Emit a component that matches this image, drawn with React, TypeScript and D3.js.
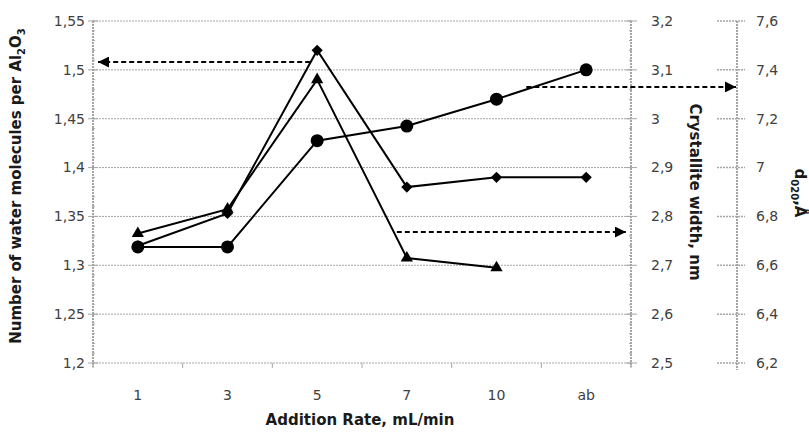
import React from "react"
import * as d3 from "d3"

// values
const categories = ["1", "3", "5", "7", "10", "ab"]
const waterMolecules = [1.32, 1.353, 1.52, 1.38, 1.39, 1.39]
const crystalliteWidth = [2.765, 2.815, 3.08, 2.715, 2.695]
const d020 = [6.675, 6.675, 7.11, 7.17, 7.28, 7.4]

const leftTicks = [1.2, 1.25, 1.3, 1.35, 1.4, 1.45, 1.5, 1.55]
const crystTicks = [2.5, 2.6, 2.7, 2.8, 2.9, 3, 3.1, 3.2]
const dTicks = [6.2, 6.4, 6.6, 6.8, 7, 7.2, 7.4, 7.6]

const W = 809
const H = 432
const margin = { top: 21, left: 93, right: 631, bottom: 363 }
const dAxisX = 737

const fmt = (v: number) => String(+v.toFixed(2)).replace(".", ",")
const tickFont = "'DejaVu Sans', sans-serif"

export default function App() {
    const x = d3.scaleBand().domain(categories).range([margin.left, margin.right])
    const cx = (c: string) => (x(c) as number) + x.bandwidth() / 2

    const yL = d3.scaleLinear().domain([1.2, 1.55]).range([margin.bottom, margin.top])
    const yC = d3.scaleLinear().domain([2.5, 3.2]).range([margin.bottom, margin.top])
    const yD = d3.scaleLinear().domain([6.2, 7.6]).range([margin.bottom, margin.top])

    const lineL = d3.line<number>().x((d, i) => cx(categories[i])).y(d => yL(d))
    const lineC = d3.line<number>().x((d, i) => cx(categories[i])).y(d => yC(d))
    const lineD = d3.line<number>().x((d, i) => cx(categories[i])).y(d => yD(d))

    const diamond = d3.symbol().type(d3.symbolDiamond2).size(80)()
    const triangle = d3.symbol().type(d3.symbolTriangle).size(65)()

    // minor ticks, five per interval
    const minor = d3.range(0, 36).map(i => 1.2 + i * 0.01)

    const grid = "#a6a6a6"
    const labelColor = "#404040"

    return (
        <svg width={W} height={H} style={{ position: "absolute", left: 0, top: 0, background: "#fff" }}>
            <defs>
                <marker id="head" viewBox="0 0 10 10" refX="10" refY="5" markerWidth="6" markerHeight="5.5" orient="auto" markerUnits="strokeWidth">
                    <path d="M0,0 L10,5 L0,10 z" fill="#000" />
                </marker>
            </defs>

            {/* horizontal gridlines */}
            {leftTicks.map(t => (
                <line key={"g" + t} x1={margin.left} x2={margin.right} y1={yL(t)} y2={yL(t)}
                    stroke={grid} strokeWidth={1} strokeDasharray="2,1" />
            ))}

            {/* left axis */}
            <line x1={margin.left} x2={margin.left} y1={margin.top} y2={margin.bottom + 4} stroke={grid} strokeWidth={2} strokeDasharray="2,1" />
            {minor.map(t => (
                <line key={"ml" + t} x1={margin.left - 1} x2={margin.left + 2} y1={yL(t)} y2={yL(t)} stroke={grid} />
            ))}
            {leftTicks.map(t => (
                <g key={"l" + t}>
                    <line x1={margin.left - 5} x2={margin.left + 5} y1={yL(t)} y2={yL(t)} stroke={grid} />
                    <text x={85} y={yL(t)} dy="0.35em" textAnchor="end" fontFamily={tickFont} fontSize={14} fill={labelColor}>{fmt(t)}</text>
                </g>
            ))}

            {/* crystallite width axis */}
            <line x1={margin.right} x2={margin.right} y1={margin.top} y2={margin.bottom + 4} stroke={grid} strokeWidth={2} strokeDasharray="2,1" />
            {minor.map(t => (
                <line key={"mc" + t} x1={margin.right - 2} x2={margin.right + 1} y1={yL(t)} y2={yL(t)} stroke={grid} />
            ))}
            {crystTicks.map(t => (
                <g key={"c" + t}>
                    <line x1={margin.right - 5} x2={margin.right + 6} y1={yC(t)} y2={yC(t)} stroke={grid} />
                    <text x={651} y={yC(t)} dy="0.35em" fontFamily={tickFont} fontSize={14} fill={labelColor}>{fmt(t)}</text>
                </g>
            ))}

            {/* d020 axis */}
            <line x1={dAxisX} x2={dAxisX} y1={margin.top} y2={margin.bottom + 7} stroke={grid} strokeWidth={2} strokeDasharray="2,1" />
            {dTicks.map(t => (
                <g key={"d" + t}>
                    <line x1={dAxisX - 20} x2={dAxisX + 8} y1={yD(t)} y2={yD(t)} stroke={grid} strokeWidth={1.5} strokeDasharray="2,1" />
                    <text x={756} y={yD(t)} dy="0.35em" fontFamily={tickFont} fontSize={14} fill={labelColor}>{fmt(t)}</text>
                </g>
            ))}

            {/* category axis */}
            {d3.range(0, categories.length + 1).map(i => (
                <line key={"xt" + i} x1={margin.left + i * x.bandwidth()} x2={margin.left + i * x.bandwidth()}
                    y1={margin.bottom} y2={margin.bottom + 5} stroke={grid} />
            ))}
            {categories.map(c => (
                <text key={"x" + c} x={cx(c)} y={395} dy="0.35em" textAnchor="middle" fontFamily={tickFont} fontSize={14} fill={labelColor}>{c}</text>
            ))}

            {/* series */}
            <path d={lineL(waterMolecules) as string} fill="none" stroke="#000" strokeWidth={2} />
            <path d={lineC(crystalliteWidth) as string} fill="none" stroke="#000" strokeWidth={2} />
            <path d={lineD(d020) as string} fill="none" stroke="#000" strokeWidth={2} />

            {d020.map((v, i) => (
                <circle key={"pd" + i} cx={cx(categories[i])} cy={yD(v)} r={6.5} fill="#000" />
            ))}
            {waterMolecules.map((v, i) => (
                <path key={"pl" + i} d={diamond as string} transform={`translate(${cx(categories[i])},${yL(v)})`} fill="#000" />
            ))}
            {crystalliteWidth.map((v, i) => (
                <path key={"pc" + i} d={triangle as string} transform={`translate(${cx(categories[i])},${yC(v)})`} fill="#000" />
            ))}

            {/* arrows pointing at each series' axis */}
            <line x1={cx("5") - 7} x2={margin.left + 5} y1={yL(1.508)} y2={yL(1.508)} stroke="#000" strokeWidth={2} strokeDasharray="5,3" markerEnd="url(#head)" />
            <line x1={x("ab") as number - 15} x2={dAxisX - 1} y1={yD(7.33)} y2={yD(7.33)} stroke="#000" strokeWidth={2} strokeDasharray="5,3" markerEnd="url(#head)" />
            <line x1={cx("7") - 10} x2={margin.right - 5} y1={yC(2.768)} y2={yC(2.768)} stroke="#000" strokeWidth={2} strokeDasharray="5,3" markerEnd="url(#head)" />

            {/* axis titles */}
            <text transform="translate(21,186) rotate(-90)" textAnchor="middle" fontFamily={tickFont} fontSize={15} fontWeight="bold" fill="#1a1a1a">
                Number of water molecules per Al<tspan fontSize={10} dy={4}>2</tspan><tspan dy={-4}>O</tspan><tspan fontSize={10} dy={4}>3</tspan>
            </text>
            <text transform="translate(690,192) rotate(90)" textAnchor="middle" fontFamily={tickFont} fontSize={15} fontWeight="bold" fill="#1a1a1a">
                Crystallite width, nm
            </text>
            <text transform="translate(795,193) rotate(90)" textAnchor="middle" fontFamily={tickFont} fontSize={15} fontWeight="bold" fill="#1a1a1a">
                d<tspan fontSize={10} dy={4}>020</tspan><tspan dy={-4}>,Å</tspan>
            </text>
            <text x={360} y={420} dy="0.35em" textAnchor="middle" fontFamily={tickFont} fontSize={15} fontWeight="bold" fill="#1a1a1a">
                Addition Rate, mL/min
            </text>
        </svg>
    )
}
